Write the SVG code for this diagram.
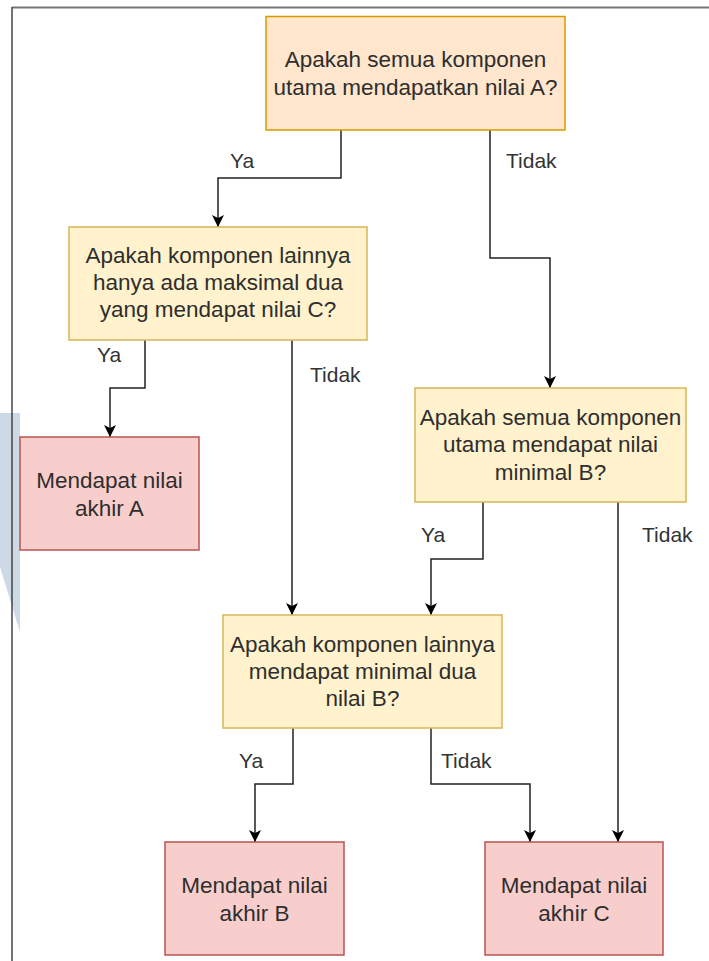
<svg xmlns="http://www.w3.org/2000/svg" width="709" height="961" viewBox="0 0 709 961">
<style>
  .t { font-family: "Liberation Sans", Arial, sans-serif; font-size: 22.5px; fill: #2e2e2e; text-anchor: middle; }
  .lbl { font-family: "Liberation Sans", Arial, sans-serif; font-size: 21px; fill: #333333; }
  .orange { fill: #ffe6cc; stroke: #d79b00; stroke-width: 1.5; }
  .yellow { fill: #fff2cc; stroke: #d6b656; stroke-width: 1.5; }
  .red { fill: #f8cecc; stroke: #b85450; stroke-width: 1.5; }
  .edge { fill: none; stroke: #222222; stroke-width: 1.5; marker-end: url(#arr); }
</style>
<defs>
  <marker id="arr" markerUnits="userSpaceOnUse" viewBox="0 0 12 13" markerWidth="12" markerHeight="13" refX="12" refY="6.5" orient="auto">
    <path d="M0,0.5 L12,6.5 L0,12.5 L3,6.5 Z" fill="#000000"/>
  </marker>
</defs>
<rect x="0" y="0" width="709" height="961" fill="#ffffff"/>
<!-- watermark -->
<polygon points="0,413 20,413 20,632 0,567" fill="#cdd9e4"/>
<!-- frame -->
<line x1="12" y1="7.5" x2="709" y2="7.5" stroke="#777777" stroke-width="2"/>
<line x1="12" y1="7" x2="12" y2="961" stroke="#444444" stroke-width="1.5"/>

<g id="connectors">
  <path class="edge" d="M341,130 V178 H218 V227"/>
  <path class="edge" d="M490,130 V258 H550 V388"/>
  <path class="edge" d="M145,340 V388 H110 V437"/>
  <path class="edge" d="M292,340 V615"/>
  <path class="edge" d="M483,502 V559 H431 V615"/>
  <path class="edge" d="M618,502 V842"/>
  <path class="edge" d="M293,728 V784 H255 V842"/>
  <path class="edge" d="M431,728 V784 H530 V842"/>
  <text class="lbl" x="230" y="168">Ya</text>
  <text class="lbl" x="506" y="168">Tidak</text>
  <text class="lbl" x="97" y="362">Ya</text>
  <text class="lbl" x="310" y="382">Tidak</text>
  <text class="lbl" x="421" y="542">Ya</text>
  <text class="lbl" x="642" y="542">Tidak</text>
  <text class="lbl" x="239" y="768">Ya</text>
  <text class="lbl" x="441" y="768">Tidak</text>
</g>

<g id="q1">
  <rect class="orange" x="266" y="16.5" width="299" height="113.5"/>
  <text class="t" x="415.5" y="67">Apakah semua komponen</text>
  <text class="t" x="415.5" y="95">utama mendapatkan nilai A?</text>
</g>
<g id="q2">
  <rect class="yellow" x="69" y="227" width="298" height="113"/>
  <text class="t" x="218" y="263">Apakah komponen lainnya</text>
  <text class="t" x="218" y="290">hanya ada maksimal dua</text>
  <text class="t" x="218" y="317">yang mendapat nilai C?</text>
</g>
<g id="q3">
  <rect class="yellow" x="415" y="388" width="271" height="114"/>
  <text class="t" x="550.5" y="425">Apakah semua komponen</text>
  <text class="t" x="550.5" y="452">utama mendapat nilai</text>
  <text class="t" x="550.5" y="480">minimal B?</text>
</g>
<g id="q4">
  <rect class="yellow" x="223" y="615" width="279" height="113"/>
  <text class="t" x="362.5" y="652">Apakah komponen lainnya</text>
  <text class="t" x="362.5" y="679">mendapat minimal dua</text>
  <text class="t" x="362.5" y="706">nilai B?</text>
</g>
<g id="rA">
  <rect class="red" x="20" y="437" width="179" height="113"/>
  <text class="t" x="109.5" y="488">Mendapat nilai</text>
  <text class="t" x="109.5" y="516">akhir A</text>
</g>
<g id="rB">
  <rect class="red" x="165" y="842" width="179" height="113"/>
  <text class="t" x="254.5" y="893">Mendapat nilai</text>
  <text class="t" x="254.5" y="921">akhir B</text>
</g>
<g id="rC">
  <rect class="red" x="485" y="842" width="178" height="113"/>
  <text class="t" x="574" y="893">Mendapat nilai</text>
  <text class="t" x="574" y="921">akhir C</text>
</g>
</svg>
